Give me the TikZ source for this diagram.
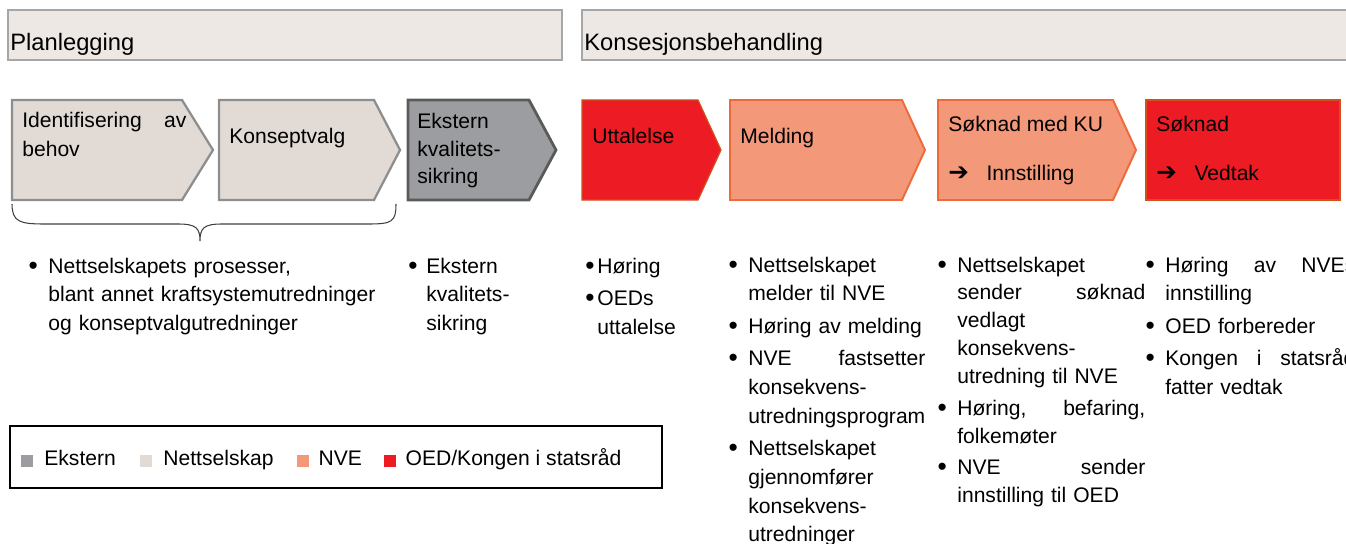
\documentclass[tikz,border=0pt]{standalone}
\usepackage{fontspec}
\setmainfont{Liberation Sans}
\newfontfamily\symf{DejaVu Sans}
\usetikzlibrary{positioning}
\definecolor{bannerc}{HTML}{EDE8E4}
\definecolor{bannerl}{HTML}{A6A6A6}
\definecolor{nettc}{HTML}{E2DBD5}
\definecolor{nettl}{HTML}{8E8E8E}
\definecolor{ekstc}{HTML}{9C9DA0}
\definecolor{ekstl}{HTML}{5A5A5A}
\definecolor{nvec}{HTML}{F4987A}
\definecolor{nvel}{HTML}{EE6A3A}
\definecolor{oedc}{HTML}{ED1C24}
\definecolor{oedl}{HTML}{D2501E}
\newcommand{\bl}[1][6pt]{\leavevmode\llap{\raisebox{-0.8pt}{\fontsize{15}{15}\selectfont\textbullet}\hspace{#1}}}
\newcommand{\jl}[2]{\leavevmode\hbox to #1{#2}}
\newcommand{\rarr}{{\symf\fontsize{14}{14}\selectfont\char"2794}}
\tikzset{
  banner/.style={draw=bannerl, fill=bannerc, line width=1.1pt},
  nett/.style={draw=nettl, fill=nettc, line width=1.3pt},
  ekst/.style={draw=ekstl, fill=ekstc, line width=1.6pt},
  nve/.style={draw=nvel, fill=nvec, line width=1.1pt},
  oed/.style={draw=oedl, fill=oedc, line width=0.7pt},
  txt/.style={anchor=base west, inner sep=0pt, align=left, font=\fontsize{12}{16.4}\selectfont},
  head/.style={txt, font=\fontsize{13.5}{16}\selectfont},
  key/.style={minimum size=7pt, inner sep=0pt},
}
\begin{document}
\begin{tikzpicture}[x=0.02cm, y=-0.02cm]
  \useasboundingbox (0,0) rectangle (1346,544);
  \clip (0,0) rectangle (1346,544);
  % phases
  \draw[banner] (8,10) rectangle (562,60);
  \draw[banner] (582,10) rectangle (1360,60);
  \node[head] (plan) at (10,51) {Planlegging};
  \node[head] (kons) at (584,51) {Konsesjonsbehandling};
  % steps
  \foreach \xa/\xb/\d/\st in {12/213/31/nett, 219/400/26/nett, 408/556/27/ekst,
                             582/721/23/oed, 730/925/23/nve, 938/1136/23/nve} {
    \draw[\st] (\xa,100) -- (\xb-\d,100) -- (\xb,150) -- (\xb-\d,200) -- (\xa,200) -- cycle;
  }
  \draw[oed] (1146,100) rectangle (1340,200);
  \node[txt, text width=3.28cm] (behov) at (22,128) {\jl{3.28cm}{Identifisering\hfill av}\\behov};
  \node[txt] (kvalg) at (229,144) {Konseptvalg};
  \node[txt, text width=2.4cm, font=\fontsize{12}{15.4}\selectfont] (eksks) at (417,129)
    {Ekstern\\kvalitets-\\sikring};
  \node[txt] (uttal) at (592,144) {Uttalelse};
  \node[txt] (meld) at (740,144) {Melding};
  \node[txt] (sku) at (948,132) {Søknad med KU};
  \node[txt] (innst) at (948,180) {\rarr\hspace{10pt}Innstilling};
  \node[txt] (sokn) at (1156,132) {Søknad};
  \node[txt] (vedt) at (1156,180) {\rarr\hspace{10pt}Vedtak};
  % brace under the planning steps
  \draw[line width=0.6pt, black!75] (12,204) .. controls (12,222) and (20,224) .. (45,224)
    -- (178,224) .. controls (196,224) and (200,228) .. (200,241)
    .. controls (200,228) and (204,224) .. (222,224) -- (368,224)
    .. controls (392,224) and (396,222) .. (396,204);
  % what happens in each step
  \node[txt, text width=7cm] (c1) at (48,273)
    {\bl Nettselskapets prosesser,\\blant annet kraftsystemutredninger\\og konseptvalgutredninger};
  \node[txt, text width=2.8cm] (c2) at (426,273) {\bl[5pt]Ekstern\\kvalitets-\\sikring};
  \node[txt, text width=2.8cm] (c3) at (597,273) {\bl[1.5pt]Høring\\[2pt]\bl[1.5pt]OEDs\\uttalelse};
  \node[txt, text width=3.54cm] (c4) at (748,272)
    {\bl Nettselskapet\\melder til NVE\\[2pt]
     \bl Høring av melding\\[2pt]
     \bl\jl{3.54cm}{NVE\hfill fastsetter}\\konsekvens-\\utredningsprogram\\[2pt]
     \bl Nettselskapet\\gjennomfører\\konsekvens-\\utredninger};
  \node[txt, text width=3.76cm, font=\fontsize{12}{15.9}\selectfont] (c5) at (957,272)
    {\bl Nettselskapet\\\jl{3.76cm}{sender\hfill søknad}\\vedlagt\\konsekvens-\\utredning til NVE\\[2pt]
     \bl\jl{3.76cm}{Høring,\hfill befaring,}\\folkemøter\\[2pt]
     \bl\jl{3.76cm}{NVE\hfill sender}\\innstilling til OED};
  \node[txt, text width=3.8cm] (c6) at (1165,272)
    {\bl\jl{3.8cm}{Høring\hfill av\hfill NVEs}\\innstilling\\[2pt]
     \bl OED forbereder\\[2pt]
     \bl\jl{3.8cm}{Kongen\hfill i\hfill statsråd}\\fatter vedtak};
  % legend
  \draw[line width=0.8pt] (10,426) rectangle (662,488);
  \node[key, fill=ekstc] (kekst) at (27,461) {};
  \node[key, fill=nettc] (knett) at (146,461) {};
  \node[key, fill=nvec] (knve) at (303,461) {};
  \node[key, fill=oedc] (koed) at (390,461) {};
  \node[txt, right=6pt of kekst, anchor=mid west] (lekst) {Ekstern};
  \node[txt, right=6pt of knett, anchor=mid west] (lnett) {Nettselskap};
  \node[txt, right=5pt of knve, anchor=mid west] (lnve) {NVE};
  \node[txt, right=5pt of koed, anchor=mid west] (loed) {OED/Kongen i statsråd};
\end{tikzpicture}
\end{document}
